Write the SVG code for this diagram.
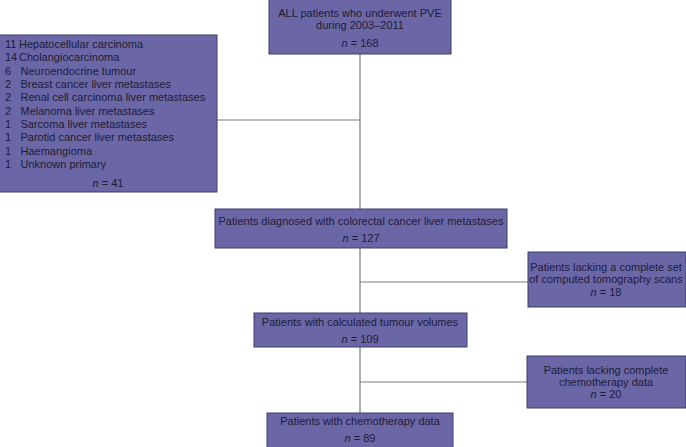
<svg xmlns="http://www.w3.org/2000/svg" width="686" height="447" viewBox="0 0 686 447">
<style>
.box{fill:#6b67a7;stroke:#3f3d6e;stroke-width:1}
.t{font-family:"Liberation Sans",Arial,sans-serif;font-size:11px;fill:#1d1c36}
.c{text-anchor:middle}
.i{font-style:italic}
.ln{stroke:#7a7a7a;stroke-width:1.2;fill:none}
</style>
<rect width="686" height="447" fill="#ffffff"/>
<g id="connectors">
<line class="ln" x1="360" y1="54" x2="360" y2="209"/>
<line class="ln" x1="217" y1="120" x2="360" y2="120"/>
<line class="ln" x1="360" y1="248" x2="360" y2="313"/>
<line class="ln" x1="360" y1="282" x2="528" y2="282"/>
<line class="ln" x1="360" y1="347" x2="360" y2="413"/>
<line class="ln" x1="360" y1="382" x2="527" y2="382"/>
</g>
<g id="all-patients">
<rect class="box" x="269" y="-1" width="182" height="55"/>
<text class="t c" x="360" y="16.5">ALL patients who underwent PVE</text>
<text class="t c" x="360" y="29">during 2003–2011</text>
<text class="t c" x="360" y="47"><tspan class="i">n</tspan> = 168</text>
</g>
<g id="excluded-other">
<rect class="box" x="-1" y="35" width="218" height="157"/>
<text class="t" y="48"><tspan x="5">11</tspan><tspan x="19">Hepatocellular carcinoma</tspan></text>
<text class="t" y="61.3"><tspan x="5">14</tspan><tspan x="19">Cholangiocarcinoma</tspan></text>
<text class="t" y="74.7"><tspan x="5">6</tspan><tspan x="20.5">Neuroendocrine tumour</tspan></text>
<text class="t" y="88"><tspan x="5">2</tspan><tspan x="20.5">Breast cancer liver metastases</tspan></text>
<text class="t" y="101.4"><tspan x="5">2</tspan><tspan x="20.5">Renal cell carcinoma liver metastases</tspan></text>
<text class="t" y="114.7"><tspan x="5">2</tspan><tspan x="20.5">Melanoma liver metastases</tspan></text>
<text class="t" y="128.1"><tspan x="5">1</tspan><tspan x="20.5">Sarcoma liver metastases</tspan></text>
<text class="t" y="141.4"><tspan x="5">1</tspan><tspan x="20.5">Parotid cancer liver metastases</tspan></text>
<text class="t" y="154.8"><tspan x="5">1</tspan><tspan x="20.5">Haemangioma</tspan></text>
<text class="t" y="168.1"><tspan x="5">1</tspan><tspan x="20.5">Unknown primary</tspan></text>
<text class="t c" x="108" y="187"><tspan class="i">n</tspan> = 41</text>
</g>
<g id="colorectal">
<rect class="box" x="215" y="209" width="292" height="39"/>
<text class="t c" x="361" y="224.5">Patients diagnosed with colorectal cancer liver metastases</text>
<text class="t c" x="361" y="242"><tspan class="i">n</tspan> = 127</text>
</g>
<g id="lacking-ct">
<rect class="box" x="528" y="252" width="158" height="55"/>
<text class="t c" x="606" y="270.5">Patients lacking a complete set</text>
<text class="t c" x="606" y="283">of computed tomography scans</text>
<text class="t c" x="606" y="295.5"><tspan class="i">n</tspan> = 18</text>
</g>
<g id="tumour-volumes">
<rect class="box" x="254" y="313" width="213" height="34"/>
<text class="t c" x="360" y="325.5">Patients with calculated tumour volumes</text>
<text class="t c" x="360" y="342.5"><tspan class="i">n</tspan> = 109</text>
</g>
<g id="lacking-chemo">
<rect class="box" x="527" y="356" width="159" height="52"/>
<text class="t c" x="606" y="373.5">Patients lacking complete</text>
<text class="t c" x="606" y="386">chemotherapy data</text>
<text class="t c" x="606" y="398"><tspan class="i">n</tspan> = 20</text>
</g>
<g id="chemo-data">
<rect class="box" x="267" y="413" width="186" height="35"/>
<text class="t c" x="360" y="424.5">Patients with chemotherapy data</text>
<text class="t c" x="360" y="442"><tspan class="i">n</tspan> = 89</text>
</g>
</svg>
